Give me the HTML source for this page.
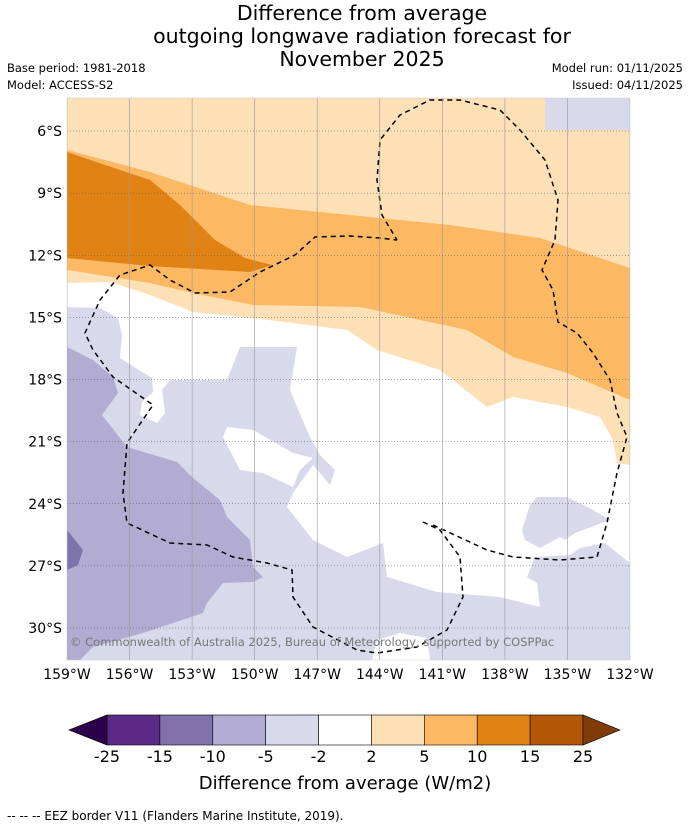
<!DOCTYPE html>
<html><head><meta charset="utf-8">
<style>
body{margin:0;background:#fff;font-family:"DejaVu Sans",sans-serif;}
svg text{font-family:"DejaVu Sans",sans-serif;}
</style></head>
<body>
<svg id="chart" width="690" height="827" viewBox="0 0 690 827">
<g font-size="20.5" text-anchor="middle" fill="#000">
<text x="362" y="20">Difference from average</text>
<text x="362" y="43">outgoing longwave radiation forecast for</text>
<text x="362" y="66">November 2025</text>
</g>
<text x="7" y="72" font-size="11.5">Base period: 1981-2018</text>
<text x="7" y="89" font-size="11.5">Model: ACCESS-S2</text>
<text x="683" y="72" font-size="11.5" text-anchor="end">Model run: 01/11/2025</text>
<text x="683" y="89" font-size="11.5" text-anchor="end">Issued: 04/11/2025</text>
<defs><clipPath id="mc"><rect x="67" y="98" width="563" height="562"/></clipPath></defs>
<g clip-path="url(#mc)">
<rect x="67" y="98" width="563" height="562" fill="#d8daeb"/>
<polygon fill="#fff" points="67,275 630,275 630,563 605,543 580,548 570,555 535,557 527,577 537,583 540,607 500,597 437,592 387,577 383,543 347,557 313,540 287,507 293,493 313,465 330,485 335,470 320,455 310,437 297,407 290,390 297,347 240,347 227,380 170,380 162,390 165,413 157,423 140,415 142,402 153,392 152,378 120,358 122,335 118,318 100,308 67,307"/>
<polygon fill="#fff" points="223,437 227,427 253,430 293,453 313,458 300,470 293,487 263,473 240,470"/>
<polygon fill="#d8daeb" points="522,530 530,505 537,497 567,497 593,510 610,520 575,533 565,540 560,537 540,548 525,540"/>
<polygon fill="#fff" points="372,660 377,640 400,633 427,638 430,660"/>
<polygon fill="#b2abd2" points="67,347 93,360 113,377 118,393 102,415 127,447 177,462 193,478 220,500 227,517 250,540 253,567 263,577 253,582 223,583 207,603 203,613 143,633 93,647 80,660 67,660"/>
<polygon fill="#8073ac" points="67,530 75,540 83,550 78,565 67,570"/>
<polygon fill="#fee0b6" points="67,98 545,98 545,130 630,130 630,465 617,463 613,440 600,417 567,407 513,397 487,407 440,370 377,350 347,330 253,318 193,312 150,295 110,282 67,283"/>
<polygon fill="#fdb863" points="67,150 150,172 250,205 350,215 450,225 540,238 630,268 630,400 567,373 513,357 467,330 360,307 253,305 193,293 150,283 67,270"/>
<polygon fill="#e08214" points="67,152 120,170 150,180 180,205 215,240 245,258 272,265 250,272 150,266 67,258"/>
<g fill="none" stroke="#000" stroke-width="1.5" stroke-dasharray="5,4">
<polyline points="423,522 440,530 460,557 463,597 447,630 417,647 377,653 357,650 313,627 293,597 292,570 267,563 233,557 207,545 170,543 127,523 123,493 127,443 153,405 113,377 93,350 85,333 100,300 120,275 150,265 170,280 195,293 230,292 260,272 295,255 315,237 350,236 380,238 397,240"/>
<polyline points="433,525 487,550 513,557 560,560 597,557 607,523 617,473 627,437 617,413 610,380 593,353 577,333 558,322 553,290 542,270 555,240 558,200 545,160 520,130 500,110 460,100 430,100 400,115 380,140 377,180 382,215 397,240"/>
</g>
<g id="grid"></g>
<text x="70" y="646" font-size="11.5" fill="#777">© Commonwealth of Australia 2025, Bureau of Meteorology, supported by COSPPac</text>
</g>
<rect x="67" y="98" width="563" height="562" fill="none" stroke="#ccc" stroke-width="0.5"/>
<g id="lonlabels" font-size="14" text-anchor="middle"></g>
<g id="latlabels" font-size="14" text-anchor="end"></g>
<g id="cbar"></g>
<text x="345" y="789" font-size="18" text-anchor="middle">Difference from average (W/m2)</text>
<text x="7" y="820" font-size="12">--  --  -- EEZ border V11 (Flanders Marine Institute, 2019).</text>
</svg>
<script>
const lons=[159,156,153,150,147,144,141,138,135,132];
const lats=[6,9,12,15,18,21,24,27,30];
const levels=[-25,-15,-10,-5,-2,2,5,10,15,25];
const binColors=["#5b2a86","#8073ac","#b2abd2","#d8daeb","#ffffff","#fee0b6","#fdb863","#e08214","#b35806"];
const ns="http://www.w3.org/2000/svg";
const lonX=l=>67+(159-l)*(563/27);
const latY=l=>131+(l-6)*(497/24);
function mk(t,a,p){const e=document.createElementNS(ns,t);for(const k in a)e.setAttribute(k,a[k]);p.appendChild(e);return e;}
const grid=document.getElementById('grid');
lons.forEach(l=>{const e=mk('line',{x1:lonX(l),x2:lonX(l),y1:98,y2:660,stroke:'#999','stroke-width':0.6},grid);


const t=mk('text',{x:lonX(l),y:679},document.getElementById('lonlabels'));t.textContent=l+'°W';

});
lats.forEach(l=>{const e=mk('line',{x1:67,x2:630,y1:latY(l),y2:latY(l),stroke:'#555','stroke-width':0.6,'stroke-dasharray':'1,2'},grid);


const t=mk('text',{x:62,y:latY(l)+5},document.getElementById('latlabels'));t.textContent=l+'°S';

});
const cb=document.getElementById('cbar');
const cx0=107,cx1=583,cy=715,ch=30,bw=(cx1-cx0)/binColors.length;
binColors.forEach((c,i)=>{const r=mk('rect',{x:cx0+i*bw,y:cy,width:bw,height:ch,fill:c,stroke:'#000','stroke-width':0.6},cb);

});
const lt=mk('polygon',{points:`${cx0},${cy} ${cx0},${cy+ch} 69,${cy+ch/2}`,fill:'#2d004b',stroke:'#000','stroke-width':0.6},cb);


const rt=mk('polygon',{points:`${cx1},${cy} ${cx1},${cy+ch} 620,${cy+ch/2}`,fill:'#7f3b08',stroke:'#000','stroke-width':0.6},cb);


levels.forEach((v,i)=>{const t=mk('text',{x:cx0+i*bw,y:762,'font-size':16,'text-anchor':'middle'},cb);t.textContent=v;

});
</script>
</body></html>
